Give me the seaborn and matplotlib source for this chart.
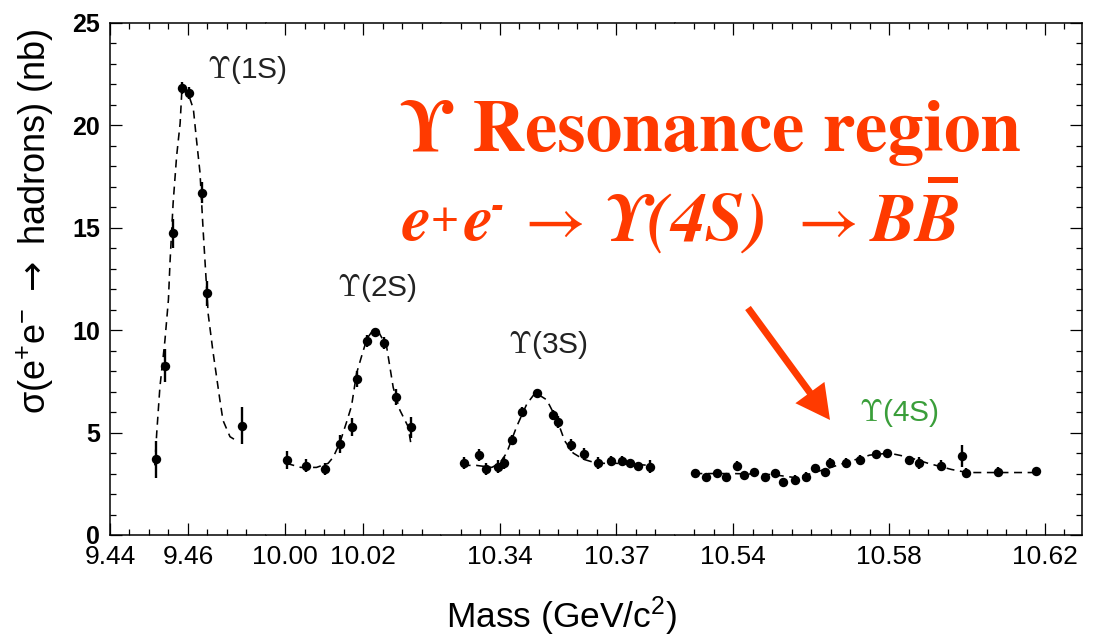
import numpy as np
import matplotlib
matplotlib.use("Agg")
import matplotlib.pyplot as plt
import seaborn as sns
from matplotlib.patches import FancyArrow, Rectangle

# ---------------------------------------------------------------
# Hadronic cross section scans across the four Upsilon resonances
# (mass in GeV/c^2, cross section in nb, symmetric errors in nb)
# ---------------------------------------------------------------
mass_1s = [9.4518, 9.4541, 9.4561, 9.4585, 9.4603, 9.4635, 9.4650, 9.4740]
xsec_1s = [3.70, 8.27, 14.73, 21.81, 21.57, 16.72, 11.80, 5.34]
err_1s = [0.9, 0.8, 0.7, 0.3, 0.3, 0.5, 0.6, 0.9]
fit_mass_1s = [9.4515, 9.4520, 9.4528, 9.4541, 9.4550, 9.4554, 9.4562, 9.4571,
               9.4580, 9.4585, 9.4600, 9.4614, 9.4622, 9.4631, 9.4639, 9.4652,
               9.4664, 9.4682, 9.4690, 9.4708, 9.4725]
fit_xsec_1s = [3.4, 5.0, 7.2, 9.5, 11.5, 13.3, 16.2, 18.5,
               20.1, 21.9, 21.6, 20.8, 19.3, 17.7, 14.9, 10.8,
               9.0, 6.6, 5.6, 4.8, 4.6]

mass_2s = [10.0005, 10.0053, 10.0101, 10.0140, 10.0171, 10.0183, 10.0210,
           10.0231, 10.0253, 10.0285, 10.0322]
xsec_2s = [3.66, 3.39, 3.21, 4.43, 5.26, 7.62, 9.47, 9.93, 9.39, 6.75, 5.26]
err_2s = [0.45, 0.3, 0.3, 0.45, 0.45, 0.4, 0.3, 0.2, 0.3, 0.4, 0.5]
fit_mass_2s = [10.0003, 10.0040, 10.0080, 10.0110, 10.0123, 10.0140, 10.0157,
               10.0170, 10.0183, 10.0200, 10.0210, 10.0225, 10.0240, 10.0260,
               10.0277, 10.0294, 10.0315, 10.0322]
fit_xsec_2s = [3.5, 3.3, 3.3, 3.5, 3.8, 4.5, 5.5, 6.3, 7.9, 9.0, 9.6, 10.0,
               9.9, 9.2, 7.2, 6.1, 5.3, 4.5]

mass_3s = [10.3309, 10.3347, 10.3365, 10.3397, 10.3412, 10.3431, 10.3458,
           10.3495, 10.3536, 10.3551, 10.3583, 10.3617, 10.3652, 10.3685,
           10.3713, 10.3735, 10.3756, 10.3787]
xsec_3s = [3.50, 3.91, 3.22, 3.34, 3.50, 4.64, 6.02, 6.92, 5.86, 5.53, 4.39,
           3.95, 3.50, 3.63, 3.63, 3.50, 3.37, 3.34]
err_3s = [0.3, 0.3, 0.3, 0.3, 0.3, 0.25, 0.25, 0.2, 0.25, 0.3, 0.3, 0.3,
          0.3, 0.25, 0.25, 0.2, 0.2, 0.3]
fit_mass_3s = [10.3305, 10.3340, 10.3380, 10.3400, 10.3418, 10.3444, 10.3470,
               10.3492, 10.3521, 10.3548, 10.3567, 10.3589, 10.3615, 10.3650,
               10.3700, 10.3787]
fit_xsec_3s = [3.4, 3.4, 3.3, 3.5, 4.0, 5.3, 6.4, 6.95, 6.6, 5.6, 4.6, 4.0,
               3.7, 3.5, 3.5, 3.4]

mass_4s = [10.5301, 10.5331, 10.5357, 10.5382, 10.5410, 10.5427, 10.5453,
           10.5481, 10.5506, 10.5528, 10.5558, 10.5586, 10.5609, 10.5635,
           10.5647, 10.5690, 10.5724, 10.5765, 10.5794, 10.5850, 10.5877,
           10.5933, 10.5988, 10.5996, 10.6079, 10.6177]
xsec_4s = [3.01, 2.85, 3.01, 2.85, 3.39, 2.93, 3.09, 2.85, 3.01, 2.60, 2.69,
           2.85, 3.26, 3.09, 3.50, 3.50, 3.66, 3.95, 4.02, 3.66, 3.50, 3.39,
           3.86, 3.04, 3.06, 3.12]
err_4s = [0.2, 0.15, 0.15, 0.15, 0.2, 0.15, 0.15, 0.15, 0.15, 0.2, 0.25,
          0.25, 0.2, 0.2, 0.25, 0.25, 0.25, 0.15, 0.15, 0.2, 0.3, 0.25,
          0.55, 0.25, 0.25, 0.15]
fit_mass_4s = [10.5300, 10.5400, 10.5500, 10.5560, 10.5600, 10.5650, 10.5700,
               10.5750, 10.5800, 10.5850, 10.5900, 10.5960, 10.6000, 10.6177]
fit_xsec_4s = [3.0, 3.0, 2.95, 2.8, 3.0, 3.3, 3.6, 3.9, 4.0, 3.8, 3.5, 3.2,
               3.05, 3.05]

# broken mass axis: one panel per scan
segments = [(9.44, 9.48), (9.995, 10.04), (10.325, 10.385), (10.525, 10.6295)]
major_ticks = [[9.44, 9.46], [10.00, 10.02], [10.34, 10.37], [10.54, 10.58, 10.62]]
major_labels = [["9.44", "9.46"], ["10.00", "10.02"], ["10.34", "10.37"],
                ["10.54", "10.58", "10.62"]]
y_ticks = [0, 5, 10, 15, 20, 25]
y_labels = ["0", "5", "10", "15", "20", "25"]

peak_labels = ["(1S)", "(2S)", "(3S)", "(4S)"]

scans = [
    (mass_1s, xsec_1s, err_1s, fit_mass_1s, fit_xsec_1s),
    (mass_2s, xsec_2s, err_2s, fit_mass_2s, fit_xsec_2s),
    (mass_3s, xsec_3s, err_3s, fit_mass_3s, fit_xsec_3s),
    (mass_4s, xsec_4s, err_4s, fit_mass_4s, fit_xsec_4s),
]

sns.set_theme(style="ticks")
plt.rcParams["font.family"] = ["Liberation Sans", "DejaVu Sans"]
plt.rcParams["mathtext.fontset"] = "custom"
plt.rcParams["mathtext.rm"] = "Liberation Sans"
plt.rcParams["mathtext.it"] = "Liberation Sans:italic"
plt.rcParams["mathtext.bf"] = "Liberation Sans:bold"
plt.rcParams["mathtext.sf"] = "DejaVu Sans"

W, H = 1099, 637
fig = plt.figure(figsize=(W / 100, H / 100), dpi=100)
fig.patch.set_facecolor("white")

RED = "#FF3A00"
GREEN = "#3A9E3A"

x0, x1 = 110, 1082
y_bot, y_top = 535, 23
px_per_gev = (x1 - x0) / sum(hi - lo for lo, hi in segments)

axes = []
left = x0
for lo, hi in segments:
    w = (hi - lo) * px_per_gev
    ax = fig.add_axes([left / W, 1 - y_bot / H, w / W, (y_bot - y_top) / H])
    ax.set_facecolor("white")
    left += w
    axes.append(ax)

n = len(axes)
for i, (ax, (lo, hi), scan) in enumerate(zip(axes, segments, scans)):
    m, s, e, fm, fs = scan
    sns.lineplot(x=fm, y=fs, ax=ax, color="black", lw=1.15,
                 linestyle=(0, (5, 3.5)), estimator=None, sort=False, zorder=2)
    ax.errorbar(m, s, yerr=e, fmt="none", ecolor="black", elinewidth=1.7,
                capsize=0, zorder=3)
    sns.scatterplot(x=m, y=s, ax=ax, color="black", s=46, marker="o",
                    linewidth=0, zorder=4)
    ax.set_xlim(lo, hi)
    ax.set_ylim(0, 25)
    ax.set_xlabel("")
    ax.set_ylabel("")

    # ticks every 5 MeV, omitting the panel joints
    minors = np.round(np.arange(lo + 0.005, hi - 0.0001, 0.005), 3)
    minors = [t for t in minors if not any(abs(t - mj) < 1e-6 for mj in major_ticks[i])]
    if i > 0:
        minors = [t for t in minors if t - lo > 0.004]
    ax.set_xticks(major_ticks[i], labels=major_labels[i], fontsize=19)
    ax.set_xticks(minors, minor=True)

    ax.set_yticks(y_ticks, labels=y_labels, fontsize=18, fontweight="bold")
    ax.set_yticks(np.arange(0, 26, 1), minor=True)

    for side in ("top", "bottom", "left", "right"):
        ax.spines[side].set_linewidth(1.1)
        ax.spines[side].set_color("black")
    ax.spines["left"].set_visible(i == 0)
    ax.spines["right"].set_visible(i == n - 1)

    ax.tick_params(which="both", direction="in", top=True, bottom=True,
                   color="black", width=0.9, labelcolor="black")
    ax.tick_params(which="major", length=8.5)
    ax.tick_params(which="minor", length=4.5)
    ax.tick_params(axis="x", which="major", pad=7)
    ax.tick_params(axis="y", left=(i == 0), right=(i == n - 1),
                   labelleft=(i == 0), labelright=False, pad=7)
    ax.tick_params(axis="y", which="minor", left=(i == 0), right=(i == n - 1))

# axis titles
ax0 = axes[0]
ax0.set_ylabel("σ(e$^{+}$e$^{\\mathrm{-}}$ $\\mathsf{\\rightarrow}$ hadrons) (nb)",
               fontsize=26, color="black")
ax0.yaxis.label.set_va("center")
ax0_w = (segments[0][1] - segments[0][0]) * px_per_gev
ax0.yaxis.set_label_coords((35 - x0) / ax0_w, (y_bot - 221) / (y_bot - y_top))

fig.text(562 / W, 1 - 616 / H, "Mass (GeV/c$^{2}$)", fontsize=25.5,
         ha="center", va="center", color="black")


def fig_xy(px, py):
    return px / W, 1 - py / H


# resonance names
peak_pos = [(247, 70), (377, 288), (548, 345), (899, 413)]
for (px, py), lab, col in zip(peak_pos, peak_labels,
                              ["#222222", "#222222", "#222222", GREEN]):
    fig.text(*fig_xy(px, py), "$\\Upsilon$" + lab, fontsize=21.5, color=col,
             ha="center", va="center", math_fontfamily="cm")

# headline
serif = ["STIXGeneral", "DejaVu Serif"]
fig.text(*fig_xy(400, 151), "ϒ Resonance region", fontsize=52.5,
         fontweight="bold", family=serif, color=RED, ha="left", va="baseline")

# decay chain, set piece by piece on a common baseline
base = 241
pieces = [
    (402, base, "e", 48, "italic", "bold"),
    (431, 229, "+", 27, "normal", "bold"),
    (464, base, "e", 48, "italic", "bold"),
    (492, 216, "-", 28, "italic", "bold"),
    (524, base, "→", 48, "normal", "normal"),
    (606, base, "ϒ(4S)", 50, "italic", "bold"),
    (797, base, "→", 48, "normal", "normal"),
    (871, base, "BB", 49, "italic", "bold"),
]
for px, py, txt, size, style, weight in pieces:
    fig.text(*fig_xy(px, py), txt, fontsize=size, fontstyle=style,
             fontweight=weight, family=serif, color=RED, ha="left",
             va="baseline")
# bar over the anti-B
fig.add_artist(Rectangle((928 / 100, (H - 183) / 100), 30 / 100, 6 / 100,
                         transform=fig.dpi_scale_trans, color=RED, lw=0))

# pointer to the 4S
fig.add_artist(FancyArrow(748 / 100, (H - 308) / 100, (830 - 748) / 100,
                          -(420 - 308) / 100, width=0.07, head_width=0.36,
                          head_length=0.34, length_includes_head=True,
                          transform=fig.dpi_scale_trans, color=RED, lw=0))

fig.savefig("out.png", dpi=100, facecolor="white")
